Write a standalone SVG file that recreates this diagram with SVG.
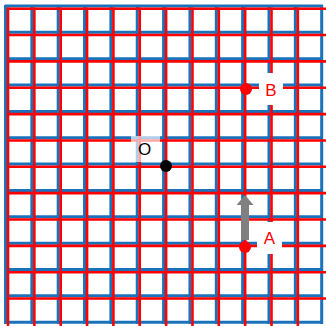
<svg xmlns="http://www.w3.org/2000/svg" width="326" height="326" viewBox="0 0 326 326">
<style>
.b{stroke:#1a72bb;stroke-width:3;fill:none}
.r{stroke:#ff0000;stroke-width:2.6;fill:none}
.lbl{font-family:"Liberation Sans",Arial,sans-serif;font-size:17px;text-anchor:middle;dominant-baseline:central}
</style>
<rect width="326" height="326" fill="#ffffff"/>
<g id="grid-blue" class="b">
<path d="M5.5 5V324M31.85 5V324M58.2 5V324M84.55 5V324M110.9 5V324M137.25 5V324M163.6 5V324M189.95 5V324M216.3 5V324M242.65 5V324M269 5V324M295.35 5V324M321.7 5V324"/>
<path d="M5 6H323M5 32.35H323M5 58.7H323M5 85.05H323M5 111.4H323M5 137.75H323M5 164.1H323M5 190.45H323M5 216.8H323M5 243.15H323M5 269.5H323M5 295.85H323M5 322.2H323"/>
</g>
<g id="grid-red" class="r">
<path d="M8 7.5V326M34.35 7.5V326M60.7 7.5V326M87.05 7.5V326M113.4 7.5V326M139.75 7.5V326M166.1 7.5V326M192.45 7.5V326M218.8 7.5V326M245.15 7.5V326M271.5 7.5V326M297.85 7.5V326"/>
<path d="M7 8.7H326M7 35.05H326M7 61.4H326M7 87.75H326M7 114.1H326M7 140.45H326M7 166.8H326M7 193.15H326M7 219.5H326M7 245.85H326M7 272.2H326M7 298.55H326"/>
</g>
<g id="connectors">
<path d="M245 240V204" stroke="#808080" stroke-width="8" fill="none"/>
<polygon points="236.5,205 245,195 253.5,205" fill="#808080"/>
</g>
<g id="node-O">
<rect x="131" y="136" width="29" height="26" fill="#ffffff" fill-opacity="0.65"/>
<text class="lbl" x="144.5" y="149" fill="#000000">O</text>
<circle cx="166" cy="166" r="6" fill="#000000"/>
</g>
<g id="node-B">
<rect x="259" y="73" width="24" height="32" fill="#ffffff"/>
<text class="lbl" x="271" y="90" fill="#ff0000">B</text>
<circle cx="246" cy="89" r="6" fill="#ff0000"/>
</g>
<g id="node-A">
<rect x="257" y="222" width="25" height="32" fill="#ffffff"/>
<text class="lbl" x="269.5" y="238.5" fill="#ff0000">A</text>
<circle cx="245" cy="247" r="6" fill="#ff0000"/>
</g>
</svg>
